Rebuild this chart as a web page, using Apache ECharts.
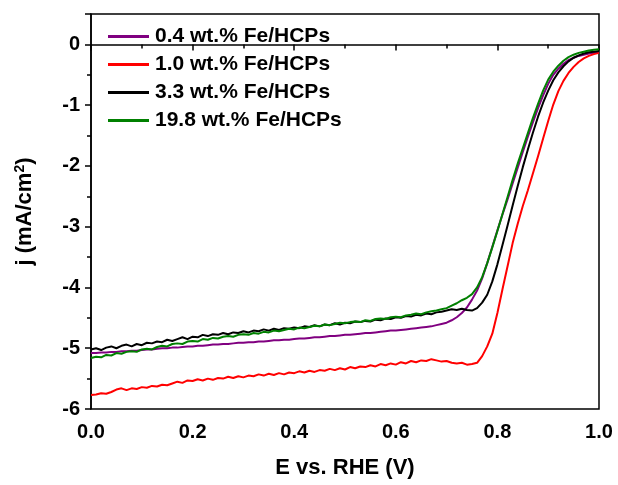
<!DOCTYPE html>
<html>
<head>
<meta charset="utf-8">
<script src="https://cdn.jsdelivr.net/npm/echarts@6/dist/echarts.min.js"></script>
<style>
html,body{margin:0;padding:0;background:#fff;}
#chart{width:618px;height:485px;}
</style>
</head>
<body>
<div id="chart"></div>
<script>
// Potential E vs. RHE (V)
const potential = [
 0.00,0.01,0.02,0.03,0.04,0.05,0.06,0.07,0.08,0.09,
 0.10,0.11,0.12,0.13,0.14,0.15,0.16,0.17,0.18,0.19,
 0.20,0.21,0.22,0.23,0.24,0.25,0.26,0.27,0.28,0.29,
 0.30,0.31,0.32,0.33,0.34,0.35,0.36,0.37,0.38,0.39,
 0.40,0.41,0.42,0.43,0.44,0.45,0.46,0.47,0.48,0.49,
 0.50,0.51,0.52,0.53,0.54,0.55,0.56,0.57,0.58,0.59,
 0.60,0.61,0.62,0.63,0.64,0.65,0.66,0.67,0.68,0.69,
 0.70,0.71,0.72,0.73,0.74,0.75,0.76,0.77,0.78,0.79,
 0.80,0.81,0.82,0.83,0.84,0.85,0.86,0.87,0.88,0.89,
 0.90,0.91,0.92,0.93,0.94,0.95,0.96,0.97,0.98,0.99,
 1.00
];
// 0.4 wt.% Fe/HCPs
const fe04 = [
 -5.08,-5.08,-5.07,-5.07,-5.06,-5.06,-5.05,-5.05,-5.04,-5.04,
 -5.03,-5.02,-5.02,-5.01,-5.00,-5.00,-4.99,-4.99,-4.98,-4.97,
 -4.97,-4.96,-4.96,-4.95,-4.94,-4.94,-4.93,-4.93,-4.92,-4.91,
 -4.91,-4.90,-4.90,-4.89,-4.89,-4.88,-4.87,-4.87,-4.86,-4.86,
 -4.85,-4.84,-4.84,-4.83,-4.82,-4.82,-4.81,-4.80,-4.80,-4.79,
 -4.78,-4.78,-4.77,-4.76,-4.75,-4.75,-4.74,-4.73,-4.72,-4.71,
 -4.71,-4.70,-4.69,-4.68,-4.67,-4.66,-4.65,-4.64,-4.62,-4.60,
 -4.58,-4.54,-4.49,-4.42,-4.33,-4.20,-4.05,-3.85,-3.60,-3.33,
 -3.06,-2.80,-2.55,-2.29,-2.03,-1.77,-1.52,-1.28,-1.05,-0.84,
 -0.65,-0.50,-0.40,-0.32,-0.26,-0.22,-0.19,-0.17,-0.15,-0.14,
 -0.13
];
// 1.0 wt.% Fe/HCPs
const fe10 = [
 -5.77,-5.76,-5.74,-5.75,-5.72,-5.68,-5.66,-5.69,-5.66,-5.67,
 -5.64,-5.65,-5.62,-5.63,-5.60,-5.61,-5.58,-5.55,-5.57,-5.53,
 -5.54,-5.51,-5.53,-5.50,-5.52,-5.49,-5.50,-5.47,-5.49,-5.46,
 -5.48,-5.45,-5.46,-5.43,-5.45,-5.42,-5.44,-5.41,-5.43,-5.40,
 -5.41,-5.38,-5.40,-5.37,-5.39,-5.36,-5.37,-5.34,-5.36,-5.33,
 -5.35,-5.31,-5.33,-5.30,-5.31,-5.28,-5.30,-5.26,-5.28,-5.25,
 -5.27,-5.23,-5.25,-5.21,-5.23,-5.20,-5.21,-5.18,-5.20,-5.22,
 -5.21,-5.24,-5.25,-5.24,-5.27,-5.26,-5.24,-5.13,-4.97,-4.76,
 -4.42,-4.03,-3.65,-3.27,-2.95,-2.66,-2.40,-2.12,-1.84,-1.55,
 -1.26,-0.99,-0.77,-0.60,-0.47,-0.37,-0.29,-0.23,-0.19,-0.16,
 -0.14
];
// 3.3 wt.% Fe/HCPs
const fe33 = [
 -5.02,-5.00,-5.03,-4.99,-4.97,-5.00,-4.96,-4.94,-4.97,-4.93,
 -4.95,-4.91,-4.92,-4.89,-4.90,-4.86,-4.88,-4.85,-4.82,-4.85,
 -4.81,-4.82,-4.78,-4.80,-4.77,-4.78,-4.75,-4.77,-4.74,-4.75,
 -4.72,-4.74,-4.71,-4.72,-4.69,-4.71,-4.68,-4.70,-4.67,-4.68,
 -4.66,-4.67,-4.64,-4.65,-4.62,-4.64,-4.61,-4.62,-4.59,-4.61,
 -4.58,-4.59,-4.56,-4.57,-4.55,-4.56,-4.53,-4.54,-4.51,-4.52,
 -4.49,-4.50,-4.47,-4.48,-4.45,-4.46,-4.43,-4.44,-4.41,-4.40,
 -4.38,-4.36,-4.37,-4.35,-4.37,-4.38,-4.34,-4.25,-4.12,-3.90,
 -3.62,-3.30,-2.98,-2.65,-2.33,-2.02,-1.73,-1.45,-1.19,-0.96,
 -0.76,-0.59,-0.46,-0.36,-0.28,-0.22,-0.18,-0.15,-0.13,-0.12,
 -0.11
];
// 19.8 wt.% Fe/HCPs
const fe198 = [
 -5.16,-5.14,-5.15,-5.11,-5.12,-5.08,-5.09,-5.06,-5.05,-5.06,
 -5.02,-5.01,-5.02,-4.98,-4.96,-4.97,-4.93,-4.92,-4.93,-4.89,
 -4.88,-4.89,-4.85,-4.86,-4.83,-4.84,-4.81,-4.80,-4.81,-4.78,
 -4.77,-4.78,-4.75,-4.76,-4.73,-4.74,-4.71,-4.72,-4.70,-4.68,
 -4.69,-4.66,-4.67,-4.65,-4.63,-4.64,-4.61,-4.62,-4.60,-4.58,
 -4.59,-4.57,-4.56,-4.57,-4.54,-4.55,-4.52,-4.51,-4.52,-4.49,
 -4.48,-4.49,-4.46,-4.45,-4.43,-4.44,-4.41,-4.39,-4.38,-4.36,
 -4.34,-4.30,-4.26,-4.21,-4.17,-4.11,-4.00,-3.83,-3.60,-3.34,
 -3.07,-2.79,-2.51,-2.23,-1.96,-1.71,-1.46,-1.21,-0.98,-0.76,
 -0.58,-0.45,-0.35,-0.27,-0.21,-0.17,-0.14,-0.12,-0.10,-0.09,
 -0.08
];

const seriesNames = ['0.4 wt.% Fe/HCPs','1.0 wt.% Fe/HCPs','3.3 wt.% Fe/HCPs','19.8 wt.% Fe/HCPs'];
const seriesColors = ['#800080','#ff0000','#000000','#008000'];
const seriesValues = [fe04, fe10, fe33, fe198];

const FONT = '"Liberation Sans", Arial, sans-serif';
const chart = echarts.init(document.getElementById('chart'), null, {renderer:'canvas'});

const series = seriesValues.map((vals, i) => ({
  name: seriesNames[i],
  type: 'line',
  data: potential.map((x, k) => [x, vals[k]]),
  showSymbol: false,
  symbol: 'none',
  smooth: false,
  lineStyle: {color: seriesColors[i], width: 2},
  itemStyle: {color: seriesColors[i]},
  animation: false
}));

chart.setOption({
  backgroundColor: '#fff',
  animation: false,
  grid: {left: 91, right: 19, top: 14, bottom: 76, show: true, borderColor: '#000', borderWidth: 1.5, backgroundColor: 'transparent'},
  legend: {
    orient: 'vertical', left: 103, top: 21, itemWidth: 41, itemHeight: 3, itemGap: 7,
    icon: 'rect',
    data: seriesNames,
    textStyle: {fontFamily: FONT, fontWeight: 'bold', fontSize: 21, color: '#000', padding: [0,0,0,1]}
  },
  xAxis: {
    type: 'value', min: 0, max: 1, interval: 0.2,
    axisLine: {show: true, lineStyle: {color: '#000', width: 1.5}},
    axisTick: {show: true, inside: false, length: 6, lineStyle: {color: '#000', width: 1.5}},
    minorTick: {show: true, splitNumber: 2, length: 4, lineStyle: {color: '#000', width: 1.5}},
    splitLine: {show: false},
    axisLabel: {margin: 13, formatter: v => v.toFixed(1), fontFamily: FONT, fontWeight: 'bold', fontSize: 20, color: '#000'},
    name: 'E vs. RHE (V)', nameLocation: 'middle', nameGap: 48,
    nameTextStyle: {fontFamily: FONT, fontWeight: 'bold', fontSize: 22, color: '#000'}
  },
  yAxis: {
    type: 'value', min: -6, max: 0.5, interval: 1,
    axisLine: {show: true, lineStyle: {color: '#000', width: 1.5}},
    axisTick: {show: true, inside: false, length: 6, lineStyle: {color: '#000', width: 1.5}},
    minorTick: {show: true, splitNumber: 2, length: 4, lineStyle: {color: '#000', width: 1.5}},
    splitLine: {show: false},
    axisLabel: {margin: 11, showMaxLabel: false, formatter: v => (v > 0.1 ? '' : String(v)), fontFamily: FONT, fontWeight: 'bold', fontSize: 20, color: '#000'},
    name: 'j (mA/cm{sup|2})', nameLocation: 'middle', nameGap: 54,
    nameTextStyle: {
      fontFamily: FONT, fontWeight: 'bold', fontSize: 22, color: '#000',
      rich: {sup: {fontFamily: FONT, fontWeight: 'bold', fontSize: 14, color: '#000', verticalAlign: 'top', padding: [0,0,10,0]}}
    }
  },
  series: series
});
</script>
</body>
</html>
